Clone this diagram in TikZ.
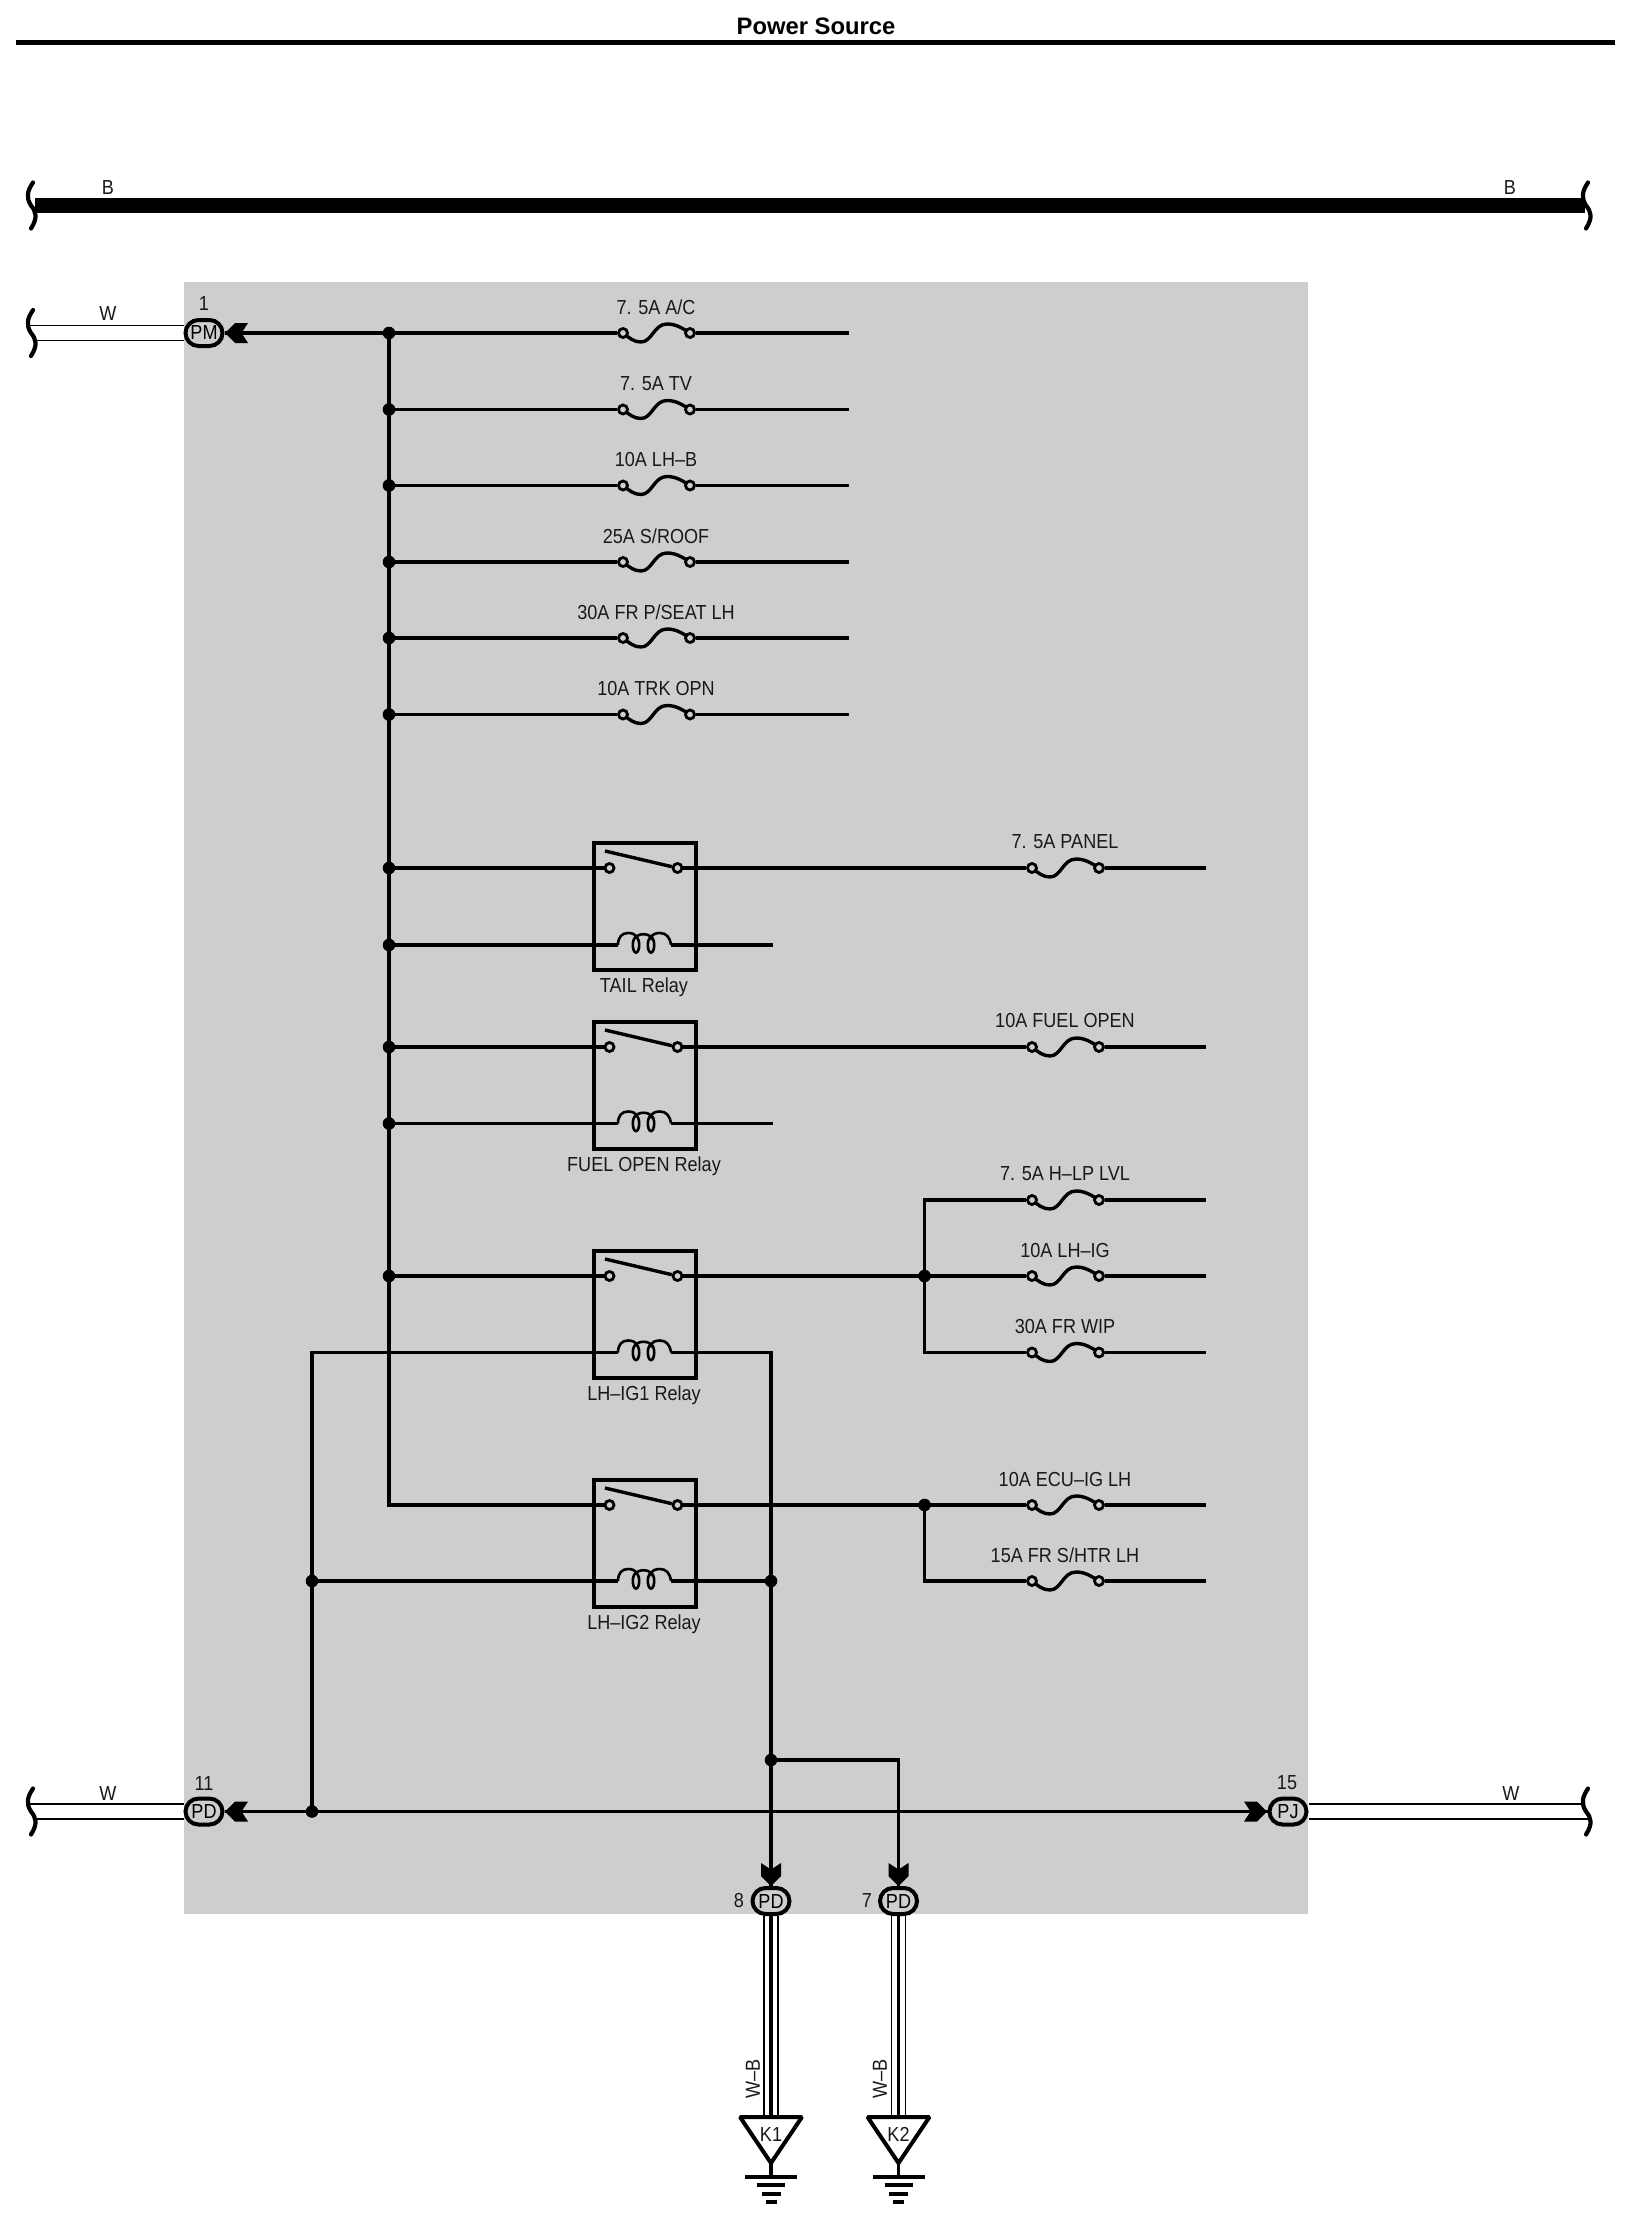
\documentclass[tikz,border=0pt]{standalone}
\usepackage{fontspec}
\setmainfont[FakeStretch=0.89]{Liberation Sans}
\newfontfamily\titlefont[Scale=1]{Liberation Sans}
\usetikzlibrary{shapes.misc,calc}
\definecolor{panelgrey}{HTML}{CECECE}
\tikzset{
  lab/.style={inner sep=0pt,font=\fontsize{20.3}{22}\selectfont,text=black!90},
  wire/.style={line width=3.4pt},
  thinwire/.style={line width=1.7pt},
  boxline/.style={line width=4pt},
  joint/.style={circle,fill=black,inner sep=0pt,minimum size=12.6pt},
  contact/.style={circle,draw,fill=panelgrey,line width=2.8pt,inner sep=0pt,minimum size=9pt},
  conn/.style={rounded rectangle,draw,fill=panelgrey,line width=4pt,inner sep=0pt,minimum width=37pt,minimum height=26pt,font=\fontsize{20.3}{22}\selectfont},
  relaybox/.style={rectangle,draw,line width=4pt,inner sep=0pt,minimum width=102pt,minimum height=127pt},
}
% fuse: name, centre x, y, label
\newcommand{\fusesym}[4]{%
  \draw[line width=3.4pt] (#2-33,#3) .. controls (#2-27,#3+5) and (#2-22,#3+9) .. (#2-15,#3+9)
     .. controls (#2-4,#3+9) and (#2-2,#3-9) .. (#2+11,#3-9)
     .. controls (#2+20,#3-9) and (#2+26,#3-5) .. (#2+34,#3);
  \node[contact] (#1L) at (#2-33,#3) {};
  \node[contact] (#1R) at (#2+34,#3) {};
  \node[lab] (#1T) at (#2,#3-26) {#4};
}
% relay: name, switch y, coil y, label
\newcommand{\relaysym}[4]{%
  \node[relaybox] (#1) at (644.5,{#2+38.5}) {};
  \node[contact] (#1SL) at (609.5,#2) {};
  \node[contact] (#1SR) at (677.5,#2) {};
  \draw[line width=3.4pt] (605,#2-17) -- (#1SR);
  \coordinate (#1CL) at (618,#3);
  \coordinate (#1CR) at (671,#3);
  \draw[line width=2.6pt] (618,#3) .. controls (618,#3-8) and (622,#3-12) .. (628,#3-12)
     .. controls (632,#3-12) and (636,#3-11) .. (636,#3-7)
     (636,#3-7) .. controls (637,#3-12) and (650,#3-12) .. (651,#3-7)
     .. controls (652,#3-11) and (656,#3-12) .. (660,#3-12)
     .. controls (666,#3-12) and (670,#3-8) .. (671,#3);
  \draw[line width=2.6pt] (636,#3) ellipse (3.2pt and 7.6pt) (651,#3) ellipse (3.2pt and 7.6pt);
  \node[lab] (#1T) at (644,{#2+119.5}) {#4};
}
% squiggle: name, x offset, centre y
\newcommand{\squig}[3]{%
  \draw[line width=4.2pt,line cap=round] (#2+33,#3-23) .. controls (#2+27,#3-14) and (#2+26,#3-8) .. (#2+31,#3)
     .. controls (#2+36,#3+6) and (#2+38,#3+12) .. (#2+31,#3+23);
  \coordinate (#1t) at (#2+29,#3-7.5);
  \coordinate (#1b) at (#2+36,#3+7.5);
  \coordinate (#1c) at (#2+34,#3);
}
% chevron tip: tip x, y, rotation
\newcommand{\chev}[3]{%
  \fill[shift={(#1,#2)},rotate=#3] (0,0) -- (-10,-10) -- (-23,-10) -- (-16.5,0) -- (-23,10) -- (-10,10) -- cycle;
}
% ground stack: name, x, top y of triangle
\newcommand{\gnd}[3]{%
  \coordinate (#1top) at (#2,2117);
  \coordinate (#1tip) at (#2,2163);
  \coordinate (#1gnd) at (#2,2177);
  \draw[line width=4pt,miter limit=2,line join=miter] (#2-31,2117) -- (#2+31,2117) -- (#1tip) -- cycle;
  \draw[wire] (#1tip) -- (#1gnd);
  \draw[wire] (#2-26,2177) -- (#2+26,2177) (#2-14,2185) -- (#2+14,2185) (#2-9.5,2194) -- (#2+9.5,2194) (#2-5.5,2202) -- (#2+5.5,2202);
  \node[lab] (#1T) at (#2,2134) {#3};
}
\begin{document}
\begin{tikzpicture}[x=1pt,y=-1pt]
\useasboundingbox (0,0) rectangle (1628,2218);
\fill[white] (0,0) rectangle (1628,2218);
\fill[panelgrey] (184,282) rectangle (1307.5,1913.5);

% title
\node[inner sep=0pt,font=\titlefont\fontsize{23.8}{26}\selectfont\bfseries] (title) at (816,26) {Power Source};
\coordinate (ruleL) at (16,42.5);
\coordinate (ruleR) at (1615,42.5);
\draw[line width=5pt] (ruleL) -- (ruleR);

% B bus
\coordinate (busA) at (35,205.5);
\coordinate (busB) at (1585,205.5);
\squig{busL}{0}{205.5}
\squig{busR}{1555}{205.5}
\draw[line width=15pt] (busA) -- (busB);
\node[lab] (bL) at (108,188) {B};
\node[lab] (bR) at (1510,188) {B};

% connectors
\node[conn] (PM) at (204,333) {PM};
\node[conn] (PDl) at (204,1811.5) {PD};
\node[conn] (PJ) at (1288,1811.5) {PJ};
\node[conn] (PDa) at (771,1901) {PD};
\node[conn] (PDb) at (898.5,1901) {PD};
\node[lab] (n1) at (204,304) {1};
\node[lab] (n11) at (204,1783) {11};
\node[lab] (n15) at (1287,1783) {15};
\node[lab] (n8) at (739,1900) {8};
\node[lab] (n7) at (867,1900) {7};

% off-panel wires
\squig{wa}{0}{333}
\squig{wb}{0}{1811.5}
\squig{wc}{1555}{1811.5}
\draw[thinwire] (wat) -- (wat -| PM.west) (wab) -- (wab -| PM.west);
\draw[thinwire] (wbt) -- (wbt -| PDl.west) (wbb) -- (wbb -| PDl.west);
\draw[thinwire] (wct) -- (wct -| PJ.east) (wcb) -- (wcb -| PJ.east);
\node[lab] (wW1) at (108,314) {W};
\node[lab] (wW2) at (108,1793) {W};
\node[lab] (wW3) at (1511,1793) {W};

% junctions
\foreach \nm/\yy in {a/333,b/409.5,c/485.5,d/562,e/638,f/714.5,g/868,h/945,i/1047,j/1123.5,k/1276}
  \coordinate (J\nm) at (389,\yy);
\coordinate (Jl) at (389,1505);
\coordinate (fanAtop) at (924.5,1200);
\coordinate (fanAmid) at (924.5,1276);
\coordinate (fanAbot) at (924.5,1352.5);
\coordinate (fanBtop) at (924.5,1505);
\coordinate (fanBbot) at (924.5,1581);

% fuses
\fusesym{fa}{656}{333}{7. 5A A/C}
\fusesym{fb}{656}{409.5}{7. 5A TV}
\fusesym{fc}{656}{485.5}{10A LH–B}
\fusesym{fd}{656}{562}{25A S/ROOF}
\fusesym{fe}{656}{638}{30A FR P/SEAT LH}
\fusesym{ff}{656}{714.5}{10A TRK OPN}
\fusesym{fg}{1065}{868}{7. 5A PANEL}
\fusesym{fh}{1065}{1047}{10A FUEL OPEN}
\fusesym{fi}{1065}{1200}{7. 5A H–LP LVL}
\fusesym{fj}{1065}{1276}{10A LH–IG}
\fusesym{fk}{1065}{1352.5}{30A FR WIP}
\fusesym{fl}{1065}{1505}{10A ECU–IG LH}
\fusesym{fm}{1065}{1581}{15A FR S/HTR LH}

% relays
\relaysym{rt}{868}{945}{TAIL Relay}
\relaysym{rf}{1047}{1123.5}{FUEL OPEN Relay}
\relaysym{ra}{1276}{1352.5}{LH–IG1 Relay}
\relaysym{rb}{1505}{1581}{LH–IG2 Relay}

% free ends
\foreach \nm/\xx/\yy in {fa/848.5/333,fb/848.5/409.5,fc/848.5/485.5,fd/848.5/562,fe/848.5/638,ff/848.5/714.5,
  fg/1206/868,fh/1206/1047,fi/1206/1200,fj/1206/1276,fk/1206/1352.5,fl/1206/1505,fm/1206/1581}
  \coordinate (\nm E) at (\xx,\yy);
\coordinate (rtE) at (773,945);
\coordinate (rfE) at (773,1123.5);

% wiring
\draw[wire] (PM.east) -- (Ja) (Ja) -- (faL);
\draw[wire] (Ja) -- (Jl) -- (rbSL);
\draw[wire] (Jb) -- (fbL) (Jc) -- (fcL) (Jd) -- (fdL) (Je) -- (feL) (Jf) -- (ffL);
\draw[wire] (Jg) -- (rtSL) (Jh) -- (rtCL) (Ji) -- (rfSL) (Jj) -- (rfCL) (Jk) -- (raSL);
\draw[wire] (rtCR) -- (rtE) (rfCR) -- (rfE);
\foreach \nm in {fa,fb,fc,fd,fe,ff,fg,fh,fi,fj,fk,fl,fm} \draw[wire] (\nm R) -- (\nm E);
\draw[wire] (rtSR) -- (fgL) (rfSR) -- (fhL);
\draw[wire] (raSR) -- (fanAmid) -- (fjL);
\draw[wire] (fiL) -- (fanAtop) -- (fanAbot) -- (fkL);
\draw[wire] (rbSR) -- (fanBtop) -- (flL) (fanBtop) -- (fanBbot) -- (fmL);
% coil feeds
\coordinate (gl) at (312,1811.5);
\coordinate (gm) at (312,1581);
\coordinate (coilAL) at (312,1352.5);
\coordinate (coilAR) at (771,1352.5);
\coordinate (coilBR) at (771,1581);
\coordinate (split) at (771,1760);
\coordinate (splitB) at (898.5,1760);
\draw[wire] (raCL) -- (coilAL) -- (gl);
\draw[wire] (gm) -- (rbCL);
\draw[wire] (raCR) -- (coilAR) -- (PDa.north);
\draw[wire] (rbCR) -- (coilBR);
\draw[wire] (split) -- (splitB) -- (PDb.north);
\draw[wire] (PDl.east) -- (PJ.west);

% chevrons
\chev{225}{333}{180}
\chev{225}{1811.5}{180}
\chev{1267}{1811.5}{0}
\chev{771}{1886}{-90}
\chev{898.5}{1886}{-90}

% joints
\foreach \nm in {Ja,Jb,Jc,Jd,Je,Jf,Jg,Jh,Ji,Jj,Jk,fanAmid,fanBtop,gl,gm,coilBR,split}
  \node[joint] at (\nm) {};

% ground wires
\gnd{ka}{771}{K1}
\gnd{kb}{898.5}{K2}
\draw[wire] (PDa.south) -- (katop) (PDb.south) -- (kbtop);
\draw[thinwire] ([xshift=-7pt]PDa.south) -- ([xshift=-7pt]katop) ([xshift=7pt]PDa.south) -- ([xshift=7pt]katop);
\draw[thinwire] ([xshift=-7pt]PDb.south) -- ([xshift=-7pt]kbtop) ([xshift=7pt]PDb.south) -- ([xshift=7pt]kbtop);
\node[lab,rotate=90] (wb1) at (753,2079) {W–B};
\node[lab,rotate=90] (wb2) at (880,2079) {W–B};
\end{tikzpicture}
\end{document}
